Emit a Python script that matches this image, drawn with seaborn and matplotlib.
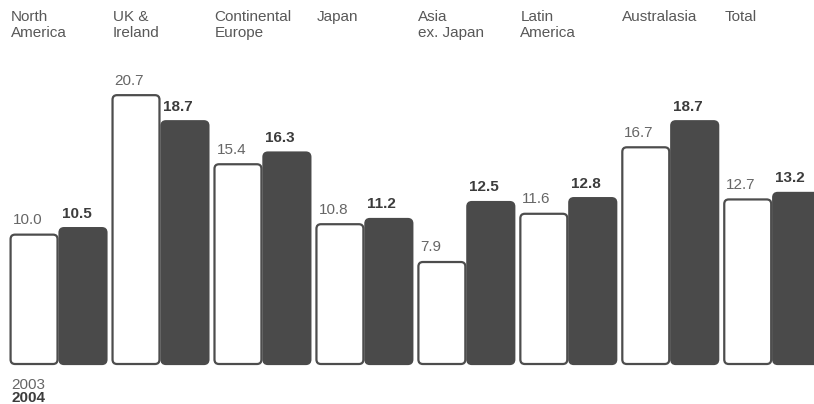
import matplotlib
matplotlib.use("Agg")
import matplotlib.pyplot as plt
from matplotlib.patches import FancyBboxPatch
import seaborn as sns
import pandas as pd

# Regional figures, two years side by side
regions = ["North\nAmerica", "UK &\nIreland", "Continental\nEurope", "Japan",
           "Asia\nex. Japan", "Latin\nAmerica", "Australasia", "Total"]
values_2003 = [10.0, 20.7, 15.4, 10.8, 7.9, 11.6, 16.7, 12.7]
values_2004 = [10.5, 18.7, 16.3, 11.2, 12.5, 12.8, 18.7, 13.2]
years = ["2003", "2004"]

df = pd.DataFrame({
    "region": regions * 2,
    "year": [years[0]] * len(regions) + [years[1]] * len(regions),
    "value": values_2003 + values_2004,
})

sns.set_theme(style="white")
plt.rcParams["font.family"] = ["Liberation Sans", "DejaVu Sans"]

W, H, DPI = 814, 404, 100
fig = plt.figure(figsize=(W / DPI, H / DPI), dpi=DPI)
ax = fig.add_axes([0, 1 - 365 / H, 1, 365 / H])

dark = "#4a4a4a"
edge = "#4d4d4d"
sns.barplot(data=df, x="region", y="value", hue="year", order=regions,
            hue_order=years, palette=["white", dark], width=0.96, gap=0,
            legend=False, ax=ax)

x_lo, x_hi = -0.574, 7.41
y_hi = 28.0
ax.set_xlim(x_lo, x_hi)
ax.set_ylim(0, y_hi)
ax.axis("off")

# unit-per-pixel ratios so rounded corners stay circular
ux = (x_hi - x_lo) / W
uy = y_hi / 365
aspect = uy / ux
radius = 4.5 * ux

label_colors = ["#666666", "#3c3c3c"]
label_weights = ["normal", "bold"]

for k, cont in enumerate(ax.containers):
    for rect, val in zip(cont.patches, cont.datavalues):
        x0, w, h = rect.get_x(), rect.get_width(), rect.get_height()
        rect.set_visible(False)
        inset = 1.0 * ux
        box = FancyBboxPatch(
            (x0 + inset, 0 + 1.0 * uy), w - 2 * inset, h - 1.0 * uy,
            boxstyle=f"round,pad=0,rounding_size={radius}",
            mutation_aspect=aspect,
            facecolor="white" if k == 0 else dark,
            edgecolor=edge if k == 0 else dark,
            linewidth=1.6, clip_on=False)
        ax.add_patch(box)
        ax.annotate(f"{val:.1f}", xy=(x0 + 3 * ux, h), xytext=(0, 7.6),
                    textcoords="offset points", ha="left", va="baseline",
                    fontsize=11, color=label_colors[k],
                    fontweight=label_weights[k])

# Region names across the top, aligned with each group's left edge
first = ax.containers[0].patches
for rect, name in zip(first, regions):
    ax.text(rect.get_x() + ux, 1 - 10 / 365, name,
            transform=ax.get_xaxis_transform(), ha="left", va="top",
            fontsize=11, color="#585858", linespacing=1.2)

# Year key in the bottom-left corner
fig.text(11 / W, 1 - 389 / H, "2003", ha="left", va="baseline",
         fontsize=11, color="#666666")
fig.text(11 / W, 1 - 402 / H, "2004", ha="left", va="baseline",
         fontsize=11, color="#3c3c3c", fontweight="bold")

fig.savefig("out.png", dpi=DPI)
